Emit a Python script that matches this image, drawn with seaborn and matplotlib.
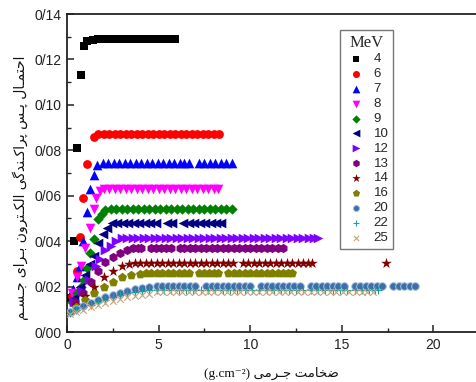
import matplotlib
matplotlib.use("Agg")
import matplotlib.pyplot as plt
import pandas as pd
import seaborn as sns

# ---------------- data ----------------
energies = ['4', '6', '7', '8', '9', '10', '12', '13', '14', '16', '20', '22', '25']

x_4 = [0.07, 0.38, 0.55, 0.76, 0.93,
       1.1, 1.4, 1.7, 2.0, 2.3, 2.6, 2.9, 3.2, 3.5, 3.8,
       4.1, 4.4, 4.7, 5.0, 5.3, 5.6, 5.9]
y_4 = [0.015, 0.040, 0.081, 0.113, 0.126,
       0.128, 0.1285, 0.129, 0.129, 0.129, 0.129, 0.129, 0.129, 0.129, 0.129,
       0.129, 0.129, 0.129, 0.129, 0.129, 0.129, 0.129]

x_6 = [0.27, 0.55, 0.71, 0.90, 1.09, 1.45,
       1.7, 2.0, 2.3, 2.6, 2.9, 3.2, 3.5, 3.8, 4.1, 4.4,
       4.7, 5.0, 5.3, 5.6, 5.9, 6.2, 6.5, 6.8, 7.1, 7.4,
       7.7, 8.0, 8.3]
y_6 = [0.016, 0.027, 0.042, 0.059, 0.074, 0.086,
       0.087, 0.087, 0.087, 0.087, 0.087, 0.087, 0.087, 0.087, 0.087, 0.087,
       0.087, 0.087, 0.087, 0.087, 0.087, 0.087, 0.087, 0.087, 0.087, 0.087,
       0.087, 0.087, 0.087]

x_7 = [0.33, 0.55, 0.71, 0.87, 1.09, 1.25, 1.45,
       1.65, 1.95, 2.25, 2.55, 2.85, 3.15, 3.45, 3.75, 4.05, 4.35,
       4.65, 4.95, 5.25, 5.55, 5.85, 6.15, 6.4, 6.65, 7.2, 7.5,
       7.8, 8.1, 8.4, 8.7, 9.0]
y_7 = [0.019, 0.024, 0.029, 0.040, 0.053, 0.063, 0.069,
       0.0735, 0.0745, 0.0745, 0.0745, 0.0745, 0.0745, 0.0745, 0.0745, 0.0745, 0.0745,
       0.0745, 0.0745, 0.0745, 0.0745, 0.0745, 0.0745, 0.0745, 0.0745, 0.0745, 0.0745,
       0.0745, 0.0745, 0.0745, 0.0745, 0.0745]

x_8 = [0.30, 0.55, 0.75, 1.0, 1.25, 1.45, 1.6, 1.8,
       2.0, 2.3, 2.6, 2.9, 3.2, 3.5, 3.8, 4.1, 4.4, 4.7,
       5.0, 5.3, 5.6, 5.9, 6.2, 6.5, 6.8, 7.1, 7.4, 7.7,
       8.0, 8.25]
y_8 = [0.017, 0.024, 0.029, 0.037, 0.046, 0.054, 0.059, 0.062,
       0.063, 0.063, 0.063, 0.063, 0.063, 0.063, 0.063, 0.063, 0.063, 0.063,
       0.063, 0.063, 0.063, 0.063, 0.063, 0.063, 0.063, 0.063, 0.063, 0.063,
       0.063, 0.063]

x_9 = [0.30, 0.55, 0.75, 0.91, 1.1, 1.25, 1.48, 1.71, 1.9,
       2.1, 2.4, 2.7, 3.0, 3.3, 3.6, 3.9, 4.2, 4.5, 4.8,
       5.1, 5.4, 5.7, 6.0, 6.3, 6.6, 6.9, 7.2, 7.5, 7.8,
       8.1, 8.4, 8.7, 9.0]
y_9 = [0.013, 0.017, 0.020, 0.023, 0.028, 0.0347, 0.041, 0.0496, 0.052,
       0.0535, 0.0543, 0.0543, 0.0543, 0.0543, 0.0543, 0.0543, 0.0543, 0.0543, 0.0543,
       0.0543, 0.0543, 0.0543, 0.0543, 0.0543, 0.0543, 0.0543, 0.0543, 0.0543, 0.0543,
       0.0543, 0.0543, 0.0543, 0.0543]

x_10 = [0.40, 0.70, 1.0, 1.25, 1.45, 1.7, 1.95, 2.2,
        2.45, 2.75, 3.05, 3.35, 3.65, 3.95, 4.25, 4.55, 4.85, 5.45,
        5.75, 6.35, 6.65, 6.95, 7.25, 7.55, 7.85, 8.15, 8.4]
y_10 = [0.015, 0.020, 0.025, 0.030, 0.0335, 0.039, 0.043, 0.046,
        0.0478, 0.0478, 0.0478, 0.0478, 0.0478, 0.0478, 0.0478, 0.0478, 0.0478, 0.0478,
        0.0478, 0.0478, 0.0478, 0.0478, 0.0478, 0.0478, 0.0478, 0.0478, 0.0478]

x_12 = [0.40, 0.80, 1.2, 1.6, 1.8, 2.1, 2.4, 2.7,
        3.0, 3.3, 3.6, 3.9, 4.2, 4.5, 4.8, 5.1, 5.4, 5.7,
        6.0, 6.3, 6.6, 6.9, 7.2, 7.5, 7.8, 8.1, 8.4, 8.7,
        9.0, 9.3, 9.6, 9.9, 10.2, 10.5, 10.8, 11.1, 11.4, 11.7,
        12.0, 12.3, 12.6, 12.9, 13.2, 13.5, 13.7]
y_12 = [0.013, 0.018, 0.023, 0.029, 0.032, 0.036, 0.038, 0.040,
        0.0412, 0.0412, 0.0412, 0.0412, 0.0412, 0.0412, 0.0412, 0.0412, 0.0412, 0.0412,
        0.0412, 0.0412, 0.0412, 0.0412, 0.0412, 0.0412, 0.0412, 0.0412, 0.0412, 0.0412,
        0.0412, 0.0412, 0.0412, 0.0412, 0.0412, 0.0412, 0.0412, 0.0412, 0.0412, 0.0412,
        0.0412, 0.0412, 0.0412, 0.0412, 0.0412, 0.0412, 0.0412]

x_13 = [0.45, 0.9, 1.3, 1.7, 2.1, 2.5, 2.9, 3.3,
        3.6, 3.85, 4.05, 4.6, 4.85, 5.15, 5.4, 5.65, 6.15, 6.4,
        6.7, 7.0, 7.3, 7.6, 7.9, 8.2, 8.5, 8.8, 9.1, 9.4,
        9.7, 10.0, 10.3, 10.6, 10.9, 11.2, 11.5, 11.8]
y_13 = [0.013, 0.017, 0.022, 0.027, 0.031, 0.033, 0.035, 0.036,
        0.0368, 0.0368, 0.0368, 0.0368, 0.0368, 0.0368, 0.0368, 0.0368, 0.0368, 0.0368,
        0.0368, 0.0368, 0.0368, 0.0368, 0.0368, 0.0368, 0.0368, 0.0368, 0.0368, 0.0368,
        0.0368, 0.0368, 0.0368, 0.0368, 0.0368, 0.0368, 0.0368, 0.0368]

x_14 = [0.5, 1.0, 1.5, 2.0, 2.5, 3.0, 3.4,
        3.7, 4.0, 4.3, 4.6, 4.9, 5.2, 5.5, 5.8, 6.1, 6.4,
        6.7, 7.0, 7.3, 7.6, 7.9, 8.2, 8.5, 8.8, 9.05, 9.6,
        9.9, 10.2, 10.5, 10.8, 11.1, 11.4, 11.7, 12.0, 12.3, 12.6,
        12.9, 13.15, 13.4, 17.4]
y_14 = [0.012, 0.016, 0.020, 0.024, 0.027, 0.029, 0.030,
        0.0304, 0.0304, 0.0304, 0.0304, 0.0304, 0.0304, 0.0304, 0.0304, 0.0304, 0.0304,
        0.0304, 0.0304, 0.0304, 0.0304, 0.0304, 0.0304, 0.0304, 0.0304, 0.0304, 0.0304,
        0.0304, 0.0304, 0.0304, 0.0304, 0.0304, 0.0304, 0.0304, 0.0304, 0.0304, 0.0304,
        0.0304, 0.0304, 0.0304, 0.0305]

x_16 = [0.5, 1.0, 1.5, 2.0, 2.5, 3.0, 3.5, 4.0,
        4.3, 4.6, 4.9, 5.2, 5.5, 5.8, 6.1, 6.4, 6.65, 7.2,
        7.5, 7.75, 8.0, 8.25, 8.8, 9.1, 9.4, 9.7, 10.0, 10.3,
        10.6, 10.9, 11.2, 11.5, 11.8, 12.05, 12.3]
y_16 = [0.011, 0.014, 0.017, 0.020, 0.022, 0.024, 0.025, 0.0255,
        0.0258, 0.0258, 0.0258, 0.0258, 0.0258, 0.0258, 0.0258, 0.0258, 0.0258, 0.0258,
        0.0258, 0.0258, 0.0258, 0.0258, 0.0258, 0.0258, 0.0258, 0.0258, 0.0258, 0.0258,
        0.0258, 0.0258, 0.0258, 0.0258, 0.0258, 0.0258, 0.0258]

x_20 = [0.15, 0.5, 0.9, 1.3, 1.7, 2.1, 2.5, 2.9, 3.3, 3.7, 4.1, 4.5,
        4.9, 5.2, 5.5, 5.8, 6.1, 6.4, 6.7, 7.0, 7.6, 7.9,
        8.2, 8.5, 8.8, 9.1, 9.4, 9.7, 10.0, 10.6, 10.9, 11.2,
        11.5, 11.8, 12.1, 12.4, 12.7, 13.3, 13.6, 13.9, 14.2, 14.5,
        14.8, 15.1, 15.7, 16.0, 16.3, 16.6, 16.9, 17.2, 17.8, 18.1,
        18.4, 18.7, 19.0]
y_20 = [0.009, 0.0102, 0.0115, 0.0128, 0.014, 0.0152, 0.0163, 0.0173, 0.0181, 0.0188, 0.0193, 0.0197,
        0.0203, 0.0203, 0.0203, 0.0203, 0.0203, 0.0203, 0.0203, 0.0203, 0.0203, 0.0203,
        0.0203, 0.0203, 0.0203, 0.0203, 0.0203, 0.0203, 0.0203, 0.0203, 0.0203, 0.0203,
        0.0203, 0.0203, 0.0203, 0.0203, 0.0203, 0.0203, 0.0203, 0.0203, 0.0203, 0.0203,
        0.0203, 0.0203, 0.0203, 0.0203, 0.0203, 0.0203, 0.0203, 0.0203, 0.0203, 0.0203,
        0.0203, 0.0203, 0.0203]

x_22 = [0.15, 0.5, 0.9, 1.3, 1.7, 2.1, 2.5, 2.9, 3.3, 3.7, 4.1,
        4.5, 4.9, 5.3, 5.7, 6.1, 6.5, 6.9, 7.3, 7.7, 8.1,
        8.5, 8.9, 9.3, 9.7, 10.1, 10.5, 10.9, 11.3, 11.7, 12.1,
        12.5, 12.9, 13.3, 13.7, 14.1, 14.5, 14.9, 15.3, 15.7, 16.1,
        16.5, 16.8, 17.0]
y_22 = [0.0085, 0.0096, 0.0108, 0.012, 0.0132, 0.0143, 0.0153, 0.0162, 0.017, 0.0176, 0.018,
        0.0186, 0.0186, 0.0186, 0.0186, 0.0186, 0.0186, 0.0186, 0.0186, 0.0186, 0.0186,
        0.0186, 0.0186, 0.0186, 0.0186, 0.0186, 0.0186, 0.0186, 0.0186, 0.0186, 0.0186,
        0.0186, 0.0186, 0.0186, 0.0186, 0.0186, 0.0186, 0.0186, 0.0186, 0.0186, 0.0186,
        0.0186, 0.0186, 0.0186]

x_25 = [0.15, 0.5, 0.9, 1.3, 1.7, 2.1, 2.5, 2.9, 3.3, 3.7, 4.1, 4.5,
        4.9, 5.25, 5.6, 5.95, 6.3, 6.65, 7.0, 7.35, 7.7, 8.05,
        8.4, 8.75, 9.1, 9.45, 9.8, 10.15, 10.5, 10.85, 11.2, 11.55,
        11.9, 12.25, 12.6, 12.95, 13.3, 13.65, 14.0, 14.35, 14.7, 15.05,
        15.4, 15.75, 16.1, 16.4, 16.7]
y_25 = [0.0078, 0.0088, 0.0098, 0.0108, 0.0118, 0.0128, 0.0137, 0.0146, 0.0154, 0.016, 0.0165, 0.0169,
        0.0175, 0.0175, 0.0175, 0.0175, 0.0175, 0.0175, 0.0175, 0.0175, 0.0175, 0.0175,
        0.0175, 0.0175, 0.0175, 0.0175, 0.0175, 0.0175, 0.0175, 0.0175, 0.0175, 0.0175,
        0.0175, 0.0175, 0.0175, 0.0175, 0.0175, 0.0175, 0.0175, 0.0175, 0.0175, 0.0175,
        0.0175, 0.0175, 0.0175, 0.0175, 0.0175]

x_ticks = [0, 5, 10, 15, 20]
x_tick_labels = ['0', '5', '10', '15', '20']
y_ticks = [0.00, 0.02, 0.04, 0.06, 0.08, 0.10, 0.12, 0.14]
y_tick_labels = ['0/00', '0/02', '0/04', '0/06', '0/08', '0/10', '0/12', '0/14']

y_label_fa = "احتمـال پـس پراکـندگی الکـترون بـرای جـسـم"
x_label_fa = "ضخامت جـرمی"
x_label_unit = "(g.cm⁻²)"
legend_title = "MeV"

series_x = {'4': x_4, '6': x_6, '7': x_7, '8': x_8, '9': x_9, '10': x_10, '12': x_12,
            '13': x_13, '14': x_14, '16': x_16, '20': x_20, '22': x_22, '25': x_25}
series_y = {'4': y_4, '6': y_6, '7': y_7, '8': y_8, '9': y_9, '10': y_10, '12': y_12,
            '13': y_13, '14': y_14, '16': y_16, '20': y_20, '22': y_22, '25': y_25}

rows = []
for e in energies:
    for xv, yv in zip(series_x[e], series_y[e]):
        rows.append({'thickness': xv, 'prob': yv, 'MeV': e})
df = pd.DataFrame(rows)

# ---------------- Persian shaping (presentation forms, visual order) ----------------
FORMS = {
    'ا': ('\uFE8D', '\uFE8E'),
    'د': ('\uFEA9', '\uFEAA'),
    'ر': ('\uFEAD', '\uFEAE'),
    'و': ('\uFEED', '\uFEEE'),
    'ـ': ('\u0640', '\u0640', '\u0640', '\u0640'),
    'ب': ('\uFE8F', '\uFE90', '\uFE91', '\uFE92'),
    'ت': ('\uFE95', '\uFE96', '\uFE97', '\uFE98'),
    'ج': ('\uFE9D', '\uFE9E', '\uFE9F', '\uFEA0'),
    'ح': ('\uFEA1', '\uFEA2', '\uFEA3', '\uFEA4'),
    'خ': ('\uFEA5', '\uFEA6', '\uFEA7', '\uFEA8'),
    'س': ('\uFEB1', '\uFEB2', '\uFEB3', '\uFEB4'),
    'ض': ('\uFEBD', '\uFEBE', '\uFEBF', '\uFEC0'),
    'ل': ('\uFEDD', '\uFEDE', '\uFEDF', '\uFEE0'),
    'م': ('\uFEE1', '\uFEE2', '\uFEE3', '\uFEE4'),
    'ن': ('\uFEE5', '\uFEE6', '\uFEE7', '\uFEE8'),
    'پ': ('\uFB56', '\uFB57', '\uFB58', '\uFB59'),
    'ک': ('\uFB8E', '\uFB8F', '\uFB90', '\uFB91'),
    'گ': ('\uFB92', '\uFB93', '\uFB94', '\uFB95'),
    'ی': ('\uFBFC', '\uFBFD', '\uFBFE', '\uFBFF'),
}


def shape_rtl(text):
    out = []
    n = len(text)
    for i, ch in enumerate(text):
        forms = FORMS.get(ch)
        if forms is None:
            out.append(ch)
            continue
        prev = text[i - 1] if i > 0 else ''
        nxt = text[i + 1] if i + 1 < n else ''
        join_prev = prev in FORMS and len(FORMS[prev]) == 4
        join_next = len(forms) == 4 and nxt in FORMS
        if join_prev and join_next:
            f = forms[3]
        elif join_next:
            f = forms[2]
        elif join_prev:
            f = forms[1]
        else:
            f = forms[0]
        out.append(f)
    return ''.join(reversed(out))


# ---------------- styling ----------------
sns.set_style('ticks')
plt.rcParams['font.family'] = ['Liberation Sans', 'DejaVu Sans']

styles = {
    '4':  dict(marker='s', color='#000000', s=30),
    '6':  dict(marker='o', color='#FF0000', s=40),
    '7':  dict(marker='^', color='#0000FF', s=48),
    '8':  dict(marker='v', color='#FF00FF', s=48),
    '9':  dict(marker='D', color='#008000', s=28),
    '10': dict(marker='<', color='#000080', s=48),
    '12': dict(marker='>', color='#8000FF', s=48),
    '13': dict(marker='h', color='#800080', s=44),
    '14': dict(marker='*', color='#800000', s=64),
    '16': dict(marker='p', color='#808000', s=46),
    '20': dict(marker='o', color='#3D6EA8', s=30),
    '22': dict(marker='+', color='#1E9E9E', s=30),
    '25': dict(marker='x', color='#C8A47C', s=22),
}

fig = plt.figure(figsize=(4.76, 3.82), dpi=100)
ax = fig.add_axes([67 / 476, 50 / 382, 458 / 476, 318 / 382])

for e in energies:
    st = styles[e]
    sub = df[df['MeV'] == e]
    if st['marker'] in ('+', 'x'):
        kw = dict(linewidth=0.8)
    elif e == '20':
        kw = dict(linewidth=0.7, edgecolor='#A9C1DE')
    else:
        kw = dict(linewidth=0)
    sns.scatterplot(data=sub, x='thickness', y='prob', marker=st['marker'],
                    color=st['color'], s=st['s'], ax=ax, label=e, zorder=3, **kw)

ax.set_xlim(0, 25)
ax.set_ylim(0, 0.14)
ax.set_xticks(x_ticks)
ax.set_xticklabels(x_tick_labels)
ax.set_yticks(y_ticks)
ax.set_yticklabels(y_tick_labels)
ax.set_xticks([2.5, 7.5, 12.5, 17.5, 22.5], minor=True)
ax.set_yticks([0.01, 0.03, 0.05, 0.07, 0.09, 0.11, 0.13], minor=True)
ax.tick_params(axis='both', which='major', direction='in', length=5, width=1.1,
               labelsize=10, labelcolor='#222222', pad=4, color='#222222')
ax.tick_params(axis='both', which='minor', direction='in', length=3, width=1.0,
               color='#222222')
ax.set_xlabel('')
ax.set_ylabel('')
for sp in ax.spines.values():
    sp.set_linewidth(1.3)
    sp.set_color('#222222')

leg = ax.legend(title=legend_title, loc='upper left',
                bbox_to_anchor=((340 - 67) / 458, (332 - 30) / 318),
                borderaxespad=0, frameon=True, fancybox=False, framealpha=1,
                edgecolor='#777777', fontsize=9.5,
                title_fontproperties={'family': 'Liberation Serif', 'size': 12},
                labelspacing=0.2, handletextpad=0.4, handlelength=1.8,
                borderpad=0.35, markerscale=0.8, scatterpoints=1)
leg.get_frame().set_linewidth(1.0)
leg.set_zorder(5)

fig.text(21 / 476, 1 - 188 / 382, shape_rtl(y_label_fa), rotation=90,
         ha='center', va='center', fontsize=10, family=['DejaVu Sans'], color='#111111')
fig.text(271 / 476, 1 - 373 / 382, x_label_unit + ' ' + shape_rtl(x_label_fa),
         ha='center', va='center', fontsize=9.5,
         family=['Liberation Serif', 'DejaVu Sans'], color='#111111')

fig.savefig('out.png', dpi=100)
